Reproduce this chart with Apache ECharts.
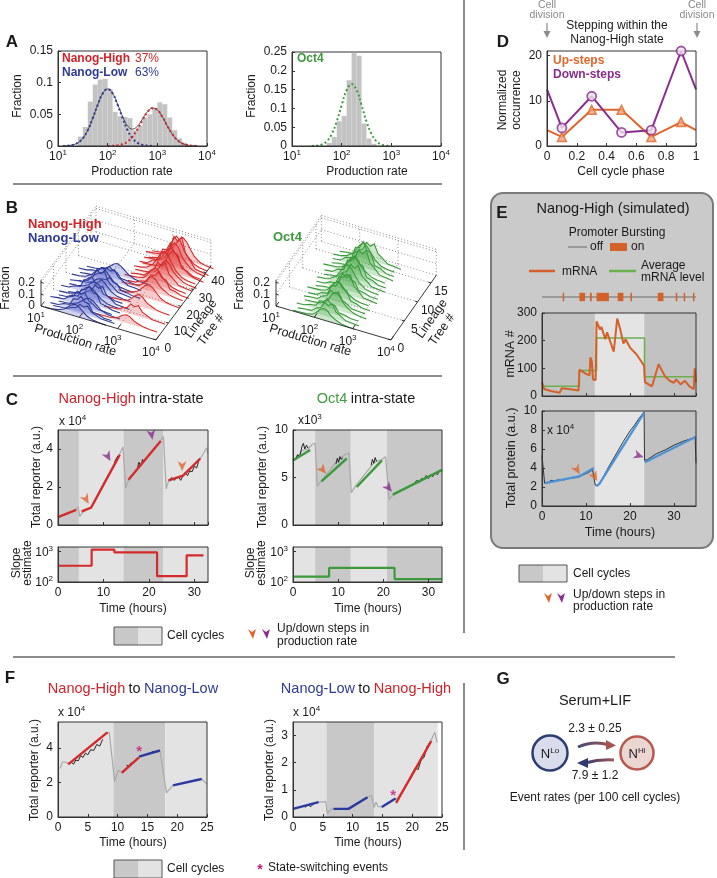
<!DOCTYPE html>
<html><head><meta charset="utf-8">
<script src="https://cdn.jsdelivr.net/npm/echarts@6.0.0/dist/echarts.min.js"></script>
<style>html,body{margin:0;padding:0;background:#fff;}#chart{width:717px;height:878px;}</style>
</head><body><div id="chart"></div>
<script>
// ================= DATA =================
// Panel A: histograms (bin centre = log10 production rate, bin width 0.1) and fitted curves
const nanogHistLog = [1.45,1.55,1.65,1.75,1.85,1.95,2.05,2.15,2.25,2.35,2.45,2.55,2.65,2.75,2.85,2.95,3.05,3.15,3.25,3.35,3.45,3.55];
const nanogHistFrac = [0.015,0.03,0.07,0.097,0.105,0.106,0.09,0.054,0.047,0.046,0.044,0.025,0.032,0.045,0.05,0.06,0.069,0.066,0.045,0.025,0.012,0.005];
const oct4HistLog = [1.75,1.85,1.95,2.05,2.15,2.25,2.35,2.45,2.55,2.65];
const oct4HistFrac = [0.008,0.024,0.066,0.08,0.175,0.247,0.24,0.06,0.02,0.006];
const fitLog = [1.0,1.1,1.2,1.3,1.4,1.5,1.6,1.7,1.8,1.9,2.0,2.1,2.2,2.3,2.4,2.5,2.6,2.7,2.8,2.9,3.0,3.1,3.2,3.3,3.4,3.5,3.6,3.7,3.8,3.9,4.0];
const nanogLowFit  = [0,0.0001,0.0005,0.0018,0.005,0.012,0.025,0.044,0.065,0.083,0.09,0.083,0.065,0.044,0.025,0.012,0.005,0.0018,0.0005,0.0001,0,0,0,0,0,0,0,0,0,0,0];
const nanogHighFit = [0,0,0,0,0,0,0,0,0,0,0.0001,0.0003,0.001,0.0028,0.0069,0.0147,0.0264,0.0408,0.0535,0.0598,0.057,0.0463,0.032,0.0189,0.0095,0.0041,0.0015,0.0005,0.0001,0,0];
const nanogSumFit  = [0,0.0001,0.0005,0.0018,0.005,0.012,0.025,0.044,0.065,0.083,0.0901,0.0833,0.066,0.0468,0.0319,0.0267,0.0314,0.0426,0.054,0.0599,0.057,0.0463,0.032,0.0189,0.0095,0.0041,0.0015,0.0005,0.0001,0,0];
const oct4Fit      = [0,0,0,0,0.0002,0.001,0.004,0.0125,0.032,0.065,0.109,0.149,0.165,0.149,0.109,0.065,0.032,0.0125,0.004,0.001,0.0002,0,0,0,0,0,0,0,0,0,0];

// Panel B: ridge profiles per lineage tree [tree, peak log10 rate, peak fraction, state(0 low,1 high,2 oct4), profile]
const bProfileDx = [-0.8,-0.6,-0.45,-0.3,-0.2,-0.1,0,0.1,0.2,0.3,0.45,0.6,0.8];
const bProfiles  = [
 [0,0.04,0.12,0.32,0.58,0.86,1,0.84,0.56,0.3,0.1,0.03,0],
 [0,0.08,0.1,0.4,0.5,0.95,0.8,1,0.5,0.35,0.08,0.05,0],
 [0,0.03,0.2,0.25,0.7,0.72,1,0.7,0.65,0.2,0.15,0.02,0],
 [0.06,0.09,0.12,0.22,0.45,0.8,1,0.85,0.5,0.32,0.12,0.04,0]];
const nanogRidges = [
 [0,1.9,0.1,0,0],[2,2.05,0.08,0,1],[3,1.95,0.13,0,2],[5,2.1,0.1,0,0],[6,1.85,0.12,0,1],[8,2.0,0.15,0,2],[10,1.95,0.11,0,0],[11,2.15,0.13,0,1],
 [13,1.9,0.15,0,2],[15,2.05,0.12,0,0],[17,2.0,0.16,0,1],[18,2.2,0.1,0,2],[20,1.95,0.13,0,0],[22,2.1,0.11,0,1],[24,2.0,0.09,0,2],[26,2.15,0.1,0,0],
 [4,3.1,0.07,1,3],[9,3.15,0.09,1,1],[14,3.1,0.1,1,3],[19,3.2,0.12,1,0],[23,3.15,0.13,1,3],[25,3.25,0.15,1,2],[27,3.1,0.14,1,3],[29,3.2,0.17,1,1],
 [31,3.25,0.16,1,3],[33,3.15,0.2,1,0],[35,3.3,0.19,1,3],[36,3.2,0.23,1,2],[38,3.25,0.21,1,3],[39,3.3,0.26,1,1],[41,3.2,0.22,1,3],[43,3.3,0.19,1,0]];
const oct4Ridges = [
 [0,2.25,0.1,2,3],[1,2.3,0.12,2,1],[2,2.2,0.11,2,2],[3,2.35,0.15,2,3],[4,2.25,0.12,2,1],[5,2.3,0.17,2,2],[6,2.2,0.13,2,3],[7,2.35,0.18,2,1],[8,2.3,0.14,2,2],
 [9,2.25,0.18,2,0],[10,2.35,0.16,2,1],[11,2.3,0.2,2,2],[12,2.2,0.15,2,3],[13,2.35,0.19,2,1],[14,2.3,0.22,2,2],[15,2.25,0.17,2,0],[16,2.35,0.15,2,1]];
const bLogTicks = [1,2,3,4];
const bFracTicks = [0,0.1,0.2];
const bTreeTicksNanog = [0,10,20,30,40];
const bTreeTicksOct4 = [0,5,10,15];

// Panel C (time in hours; reporter x1e4 left, x1e3 right; slope estimate)
const cCyclesL = [0,4.6,14.4,23.1,33];  const cShadesL = [0,1,0,1];
const cGrayL = [[0,0.42],[2,0.6],[4.0,0.8],[4.4,0.97],[4.8,0.45],[5.3,0.62],[6,0.78],[7.3,0.92],[10,2.2],[13.5,3.7],[14.3,4.1],[14.9,1.95],[15.5,2.35],[19,3.4],[22.6,4.45],[23.2,4.65],[23.8,1.9],[24.3,2.3],[27.5,2.6],[31.3,3.5],[32.7,4.05],[33,3.75]];
const cFitL = [[[0,0.42],[4,0.8]],[[5.2,0.72],[7.3,0.92],[13.6,3.7]],[[15.5,2.38],[22.6,4.42]],[[24.3,2.35],[27.5,2.6],[31.3,3.5]]];
const cNoiseL = [[[12.3,3.1],[12.6,3.4],[12.9,3.3],[13.2,3.65]],[[17.5,3.0],[17.8,3.3],[18.2,3.1],[18.6,3.45],[19,3.35]],
 [[24.5,2.35],[25,2.5],[25.5,2.35],[26,2.45],[26.5,2.55],[27,2.35],[27.5,2.6],[28,2.75],[28.5,2.6],[29,2.85],[29.5,2.8],[30,3.1],[30.5,3.0],[31,3.4]]];
const cArrowsL = [[6.2,1.35,0,30],[11,3.6,1,30],[20.6,4.75,1,10],[27.3,3.1,0,0]];
const cSlopeL = [[0,340],[7.4,1150],[12.4,930],[21.8,155],[28.3,750],[32,750]];
const cCyclesR = [0,4.9,12.8,20.8,33]; const cShadesR = [1,0,1,0];
const cGrayR = [[0,6.8],[1,7.2],[2,7.8],[3.3,8.0],[4.3,8.5],[4.9,8.6],[5.4,4.1],[6.2,4.6],[10,6.9],[11.5,7.4],[12.4,7.6],[12.9,3.4],[14,4.2],[18,6.6],[19.7,6.9],[20.5,7.2],[21.3,2.7],[22,3.1],[27,4.4],[33,5.75]];
const cFitR = [[[0,6.8],[3.8,7.9]],[[6.3,4.6],[11.9,7.0]],[[14.1,4.0],[19.7,6.8]],[[22.1,3.2],[33,5.8]]];
const cNoiseR = [[[0.5,6.9],[1,7.4],[1.5,7.2],[2,8.3],[2.3,8.6],[2.6,8.0],[3,8.4],[3.3,8.1]],[[9.5,6.4],[9.8,7.0],[10.1,6.6],[10.4,7.2],[10.7,6.9],[11,7.1]],
 [[17.3,6.3],[17.6,6.9],[17.9,6.5],[18.2,7.1],[18.5,6.7]],[[27,4.5],[27.5,4.7],[28,4.5],[28.5,4.9],[29,4.8],[29.5,5.2],[30,4.9],[30.5,5.3],[31,5.1],[31.5,5.5],[32,5.3],[32.5,5.8]]];
const cArrowsR = [[6.6,5.8,0,40],[21.2,3.9,1,40]];
const cSlopeR = [[0,150],[8,290],[22.5,125],[33,125]];

// Panel D
const dPhase = [0,0.1,0.3,0.5,0.7,0.9,1.0];
const dUpSteps = [3.5,2,8,8,2,5.3,3.5];
const dDownSteps = [12.5,4,11,3,3.5,21,12.5];

// Panel E (simulated)
const eCycles = [0,12,23.3,35]; const eShades = [0,1,0];
const eBursts = [[4.7,5.0],[8.5,9.8],[10.9,11.3],[12.4,15.2],[17.2,18.5],[20.1,20.4],[26.3,27.6],[30.4,30.7],[32.2,32.5],[34.3,34.6]];
const eMrna = [[0,50],[0.5,25],[2,18],[4,12],[4.5,28],[6,25],[8.3,20],[8.5,95],[10,80],[10.8,75],[11,140],[11.3,125],[11.6,60],[12.2,58],[12.4,270],[13.2,240],[13.5,250],[14.4,205],[14.8,230],[16.3,160],[17.1,280],[17.8,240],[18.5,190],[19,205],[20,175],[21.5,150],[23.2,110],[23.4,50],[25,35],[26.5,115],[28,70],[29,55],[30,48],[30.5,60],[31.5,42],[32.5,55],[33.5,35],[34.5,25],[34.7,100],[35,50]];
const eAvgMrna = [[0,35],[8.5,92],[12.4,210],[23.3,70],[35,70]];
const eProtein = [[0,5.3],[0.3,5.2],[0.6,2.4],[1.5,2.5],[2,2.7],[3,2.65],[4,2.8],[5,2.75],[6,2.9],[7,2.95],[8,3.0],[8.6,3.1],[9.5,3.3],[10.5,3.5],[11.5,3.8],[11.9,3.95],[12.1,2.2],[12.6,2.1],[13.2,2.4],[15,4.0],[17,5.6],[18.5,6.8],[20,7.9],[21,8.5],[22,9.2],[23.2,9.9],[23.3,4.8],[24,4.9],[26,5.5],[28,5.9],[30,6.4],[32,6.8],[34,7.1],[34.8,7.3],[35,4.5]];
const eFit = [[[0.7,2.4],[8.6,3.15],[11.8,4.0]],[[12.3,2.1],[13,2.3],[23.2,9.8]],[[23.4,4.6],[35,7.3]]];
const eArrows = [[8,3.8,0,30],[12,3.1,0,30],[22,5.3,1,70]];

// Panel F
const fCyclesL = [0,9.3,18,25]; const fShadesL = [1,0,1];
const fGrayL = [[0.3,2.8],[0.8,3.2],[1.5,3.15],[2,3.1],[5,4.0],[8,4.85],[8.6,4.9],[9.5,2.05],[10.1,2.7],[10.6,2.6],[13.6,3.5],[17.1,3.85],[17.4,3.95],[18.2,1.4],[19.3,1.85],[24.1,2.2],[25,1.9]];
const fHighL = [[[1.7,3.05],[8.3,4.9]],[[10.7,2.55],[13.6,3.45]]];
const fLowL = [[[13.6,3.5],[17.1,3.85]],[[19.3,1.83],[24.1,2.2]]];
const fNoiseL = [[[2.2,3.2],[2.6,3.05],[3,3.3],[3.4,3.25],[3.8,3.55],[4.2,3.45],[4.6,3.7],[5,3.6],[5.5,3.9],[6,3.85],[6.5,4.2],[7,4.1],[7.5,4.5]],[[11.5,3.0],[11.9,2.95],[12.3,3.15]],[[14.5,3.6],[15,3.65],[15.5,3.7],[16,3.8],[16.5,3.75]],[[22.5,2.05],[23,2.15],[23.5,2.1]]];
const fSwitchL = [[13.6,3.95]];
const fCyclesR = [0,5.6,13.6,24.3]; const fShadesR = [1,0,1];
const fGrayR = [[0,0.3],[4.3,0.55],[5.5,0.57],[5.75,0.14],[6.5,0.3],[9.3,0.3],[12.5,0.73],[13.2,0.8],[13.6,0.35],[13.9,0.55],[14.3,0.38],[14.9,0.37],[17.2,0.68],[17.6,0.7],[20,1.5],[23.2,2.85],[23.8,3.12],[24.2,2.75]];
const fLowR = [[[0,0.3],[4.3,0.55]],[[6.8,0.3],[9.3,0.3],[12.5,0.73]],[[14.9,0.37],[17.2,0.68]]];
const fHighR = [[[17.3,0.52],[23.2,2.8]]];
const fNoiseR = [[[2,0.35],[2.5,0.45],[3,0.38],[3.5,0.5]],[[20,1.6],[20.5,1.8],[21,1.75],[21.5,2.1],[22,2.2],[22.5,2.6],[23,2.75]]];
const fSwitchR = [[16.8,0.9]];

// Panel G
const gRateLoToHi = '2.3 ± 0.25';
const gRateHiToLo = '7.9 ± 1.2';

// ================= BUILD =================
const FONT = '"Liberation Sans", Arial, Helvetica, sans-serif';
const INK = '#1a1a1a', AXC = '#333333';
const RED = '#d1232a', BLUE = '#2f3a94', GREEN = '#3f9a3f', ORANGE = '#e0652c', PURPLE = '#8a2d8d';
const FITRED = '#d42a2a', FITBLUE = '#2b3aa0', FITGREEN = '#3c9a3c', GRAYTR = '#a9a9a9';
const SHADE = {d:'#c8c8c8', l:'#e3e3e4'};
const SHADE_E = {d:'#c2c2c2', l:'#e4e4e4'};
const FS = 12;
const SUP = {n:{fontSize:FS, fontFamily:FONT, color:INK, verticalAlign:'bottom'}, s:{fontSize:8, fontFamily:FONT, color:INK, verticalAlign:'bottom', padding:[0,0,6,0]}};
const SUPZ = {n:{fontSize:FS, fontFamily:FONT, fill:INK, verticalAlign:'bottom'}, s:{fontSize:8, fontFamily:FONT, fill:INK, verticalAlign:'bottom', padding:[0,0,6,0]}};
const pow10 = v => '{n|10}{s|' + Math.round(v) + '}';

const option = {animation:false, backgroundColor:'#ffffff', textStyle:{fontFamily:FONT}, grid:[], xAxis:[], yAxis:[], series:[], graphic:[]};

function axis(o, lab){
  return Object.assign({type:'value', axisLine:{show:true, onZero:false, lineStyle:{color:AXC, width:1}},
    axisTick:{show:true, inside:true, length:3, lineStyle:{color:AXC}},
    axisLabel:Object.assign({show:true, color:INK, fontSize:FS, fontFamily:FONT, margin:5}, lab||{}),
    splitLine:{show:false}, z:6}, o);
}
function addGrid(l,t,w,h,xa,ya,box){
  const i = option.grid.length;
  option.grid.push({left:l, top:t, width:w, height:h, show:box!==false, borderColor:AXC, borderWidth:1,
    backgroundColor:'rgba(0,0,0,0)', z:5, containLabel:false, outerBoundsMode:'none'});
  xa.gridIndex = i; ya.gridIndex = i;
  option.xAxis.push(xa); option.yAxis.push(ya);
  return i;
}
function line(gi, data, color, width, extra){
  option.series.push(Object.assign({type:'line', xAxisIndex:gi, yAxisIndex:gi, data:data, symbol:'none', showSymbol:false,
    silent:true, lineStyle:{color:color, width:width}, z:3}, extra||{}));
}
function curve(gi, xs, ys, color, width, dotted){
  const d = []; xs.forEach((x,k)=>{ if (ys[k] > 0) d.push([x, ys[k]]); });
  line(gi, d, color, width, {smooth:0.4, lineStyle:{color:color, width:width, type: dotted ? [2,2.4] : 'solid'}});
}
function cycles(gi, bounds, shades, pal, yRef){
  option.series.push({type:'custom', xAxisIndex:gi, yAxisIndex:gi, silent:true, z:1,
    data: shades.map((s,k)=>[bounds[k], bounds[k+1], yRef, s]),
    renderItem:(p, api)=>{ const cs = p.coordSys; const y = api.value(2);
      let a = api.coord([api.value(0), y])[0], b = api.coord([api.value(1), y])[0];
      a = Math.max(cs.x, a); b = Math.min(cs.x + cs.width, b);
      return {type:'rect', shape:{x:a, y:cs.y, width:Math.max(0,b-a), height:cs.height}, style:{fill: api.value(3)===0 ? pal.d : pal.l}};
    }});
}
function hist(gi, centers, vals, width){
  option.series.push({type:'custom', xAxisIndex:gi, yAxisIndex:gi, silent:true, z:2,
    data: centers.map((c,k)=>[c, vals[k]]),
    renderItem:(p, api)=>{ const c = api.value(0), h = api.value(1);
      const a = api.coord([c - width/2, 0]), b = api.coord([c + width/2, h]);
      return {type:'rect', shape:{x:a[0], y:b[1], width:b[0]-a[0], height:a[1]-b[1]}, style:{fill:'#c3c3c3'}};
    }});
}
const ARROW = 'path://M0,0 L7,4 L14,0 L7,14 Z';
function arrows(gi, list){
  option.series.push({type:'scatter', xAxisIndex:gi, yAxisIndex:gi, silent:true, z:8, symbol:ARROW, symbolSize:[9,10],
    data: list.map(a=>({value:[a[0],a[1]], symbolRotate:a[3], itemStyle:{color: a[2]===0 ? ORANGE : PURPLE}}))});
}
function stars(gi, list){
  option.series.push({type:'scatter', xAxisIndex:gi, yAxisIndex:gi, silent:true, z:8, symbolSize:1, itemStyle:{color:'rgba(0,0,0,0)'},
    label:{show:true, formatter:'*', color:'#c2187c', fontSize:15, fontWeight:'bold', position:'inside', offset:[0,3]}, data:list});
}
function T(x,y,text,o){ o = o||{};
  option.graphic.push({type:'text', x:x, y:y, z:100, silent:true, rotation:o.rot||0,
    style:{text:text, fill:o.color||INK, fontSize:o.size||FS, fontFamily:FONT, fontWeight:o.bold?'bold':'normal',
      align:o.align||'center', verticalAlign:o.va||'middle', rich:o.rich}});
}
function Ln(x1,y1,x2,y2,color,w){ option.graphic.push({type:'line', z:100, silent:true, shape:{x1:x1,y1:y1,x2:x2,y2:y2}, style:{stroke:color, lineWidth:w}}); }
function Rect(x,y,w,h,fill,stroke,r,z,lw){ option.graphic.push({type:'rect', z:(z==null?100:z), silent:true, shape:{x:x,y:y,width:w,height:h,r:r||0}, style:{fill:fill, stroke:stroke||null, lineWidth:stroke?(lw||1):0}}); }
function Poly(pts, fill){ option.graphic.push({type:'polygon', z:100, silent:true, shape:{points:pts}, style:{fill:fill}}); }
function legendBox(x,y,w,h){ Rect(x,y,w/2,h,SHADE.d); Rect(x+w/2,y,w/2,h,SHADE.l); Rect(x,y,w,h,'rgba(0,0,0,0)','#555'); }

// ---------- Panel A ----------
const yFmt = v => v===0 ? '0' : String(+v.toFixed(2));
const gA1 = addGrid(58,51,149,95, axis({min:1,max:4,interval:1},{formatter:pow10, rich:SUP, margin:3}), axis({min:0,max:0.15,interval:0.05},{formatter:yFmt}));
hist(gA1, nanogHistLog, nanogHistFrac, 0.1);
curve(gA1, fitLog, nanogSumFit, '#333', 0.8, false);
curve(gA1, fitLog, nanogLowFit, BLUE, 2, true);
curve(gA1, fitLog, nanogHighFit, RED, 2, true);
const gA2 = addGrid(292,52,149,94, axis({min:1,max:4,interval:1},{formatter:pow10, rich:SUP, margin:3}), axis({min:0,max:0.25,interval:0.05},{formatter:yFmt}));
hist(gA2, oct4HistLog, oct4HistFrac, 0.1);
curve(gA2, fitLog, oct4Fit, GREEN, 2, true);

// ---------- Panel D ----------
const gD = addGrid(547,51,149,95, axis({min:0,max:1,interval:0.2},{formatter:v=>String(+v.toFixed(1))}), axis({min:0,max:21,interval:10},{showMaxLabel:false}));
line(gD, dPhase.map((x,k)=>[x,dUpSteps[k]]), ORANGE, 2);
line(gD, dPhase.map((x,k)=>[x,dDownSteps[k]]), PURPLE, 2);
option.series.push({type:'scatter', xAxisIndex:gD, yAxisIndex:gD, silent:true, z:5, symbol:'triangle', symbolSize:9,
  itemStyle:{color:'#f1a57c', borderColor:ORANGE, borderWidth:1.5}, data: dPhase.slice(1,-1).map((x,k)=>[x,dUpSteps[k+1]])});
option.series.push({type:'scatter', xAxisIndex:gD, yAxisIndex:gD, silent:true, z:5, symbol:'circle', symbolSize:9,
  itemStyle:{color:'#efe3ef', borderColor:PURPLE, borderWidth:1.8}, data: dPhase.slice(1,-1).map((x,k)=>[x,dDownSteps[k+1]])});

// ---------- Panel B (3D ridge projection on a hidden pixel grid) ----------
const gB = addGrid(0,0,717,878, {type:'value',min:0,max:717,show:false}, {type:'value',min:0,max:878,inverse:true,show:false}, false);
const PB_L = {ox:41, oy:306, ex:[38.3,11.3], et:[1.25,-1.68], ef:-118, tMax:44, fMax:0.22, tTicks:bTreeTicksNanog, lin:[22,10], treeLab:[12,9]};
const PB_R = {ox:276, oy:306, ex:[38.3,11.3], et:[2.67,-3.8], ef:-118, tMax:17, fMax:0.22, tTicks:bTreeTicksOct4, lin:[22,6], treeLab:[10,9]};
function bProj(P, lx, t, f){ return [P.ox + (lx-1)*P.ex[0] + t*P.et[0], P.oy + (lx-1)*P.ex[1] + t*P.et[1] + f*P.ef]; }
function bFrame(P){
  option.series.push({type:'custom', xAxisIndex:gB, yAxisIndex:gB, silent:true, z:2, data:[[0]], renderItem:(p, api)=>{
    const c = (lx,t,f)=>api.coord(bProj(P,lx,t,f)); const ch = [];
    const dot = {stroke:'#707070', lineWidth:0.8, lineDash:[1,2.2]};
    const L = (a,b,st)=>ch.push({type:'line', shape:{x1:a[0],y1:a[1],x2:b[0],y2:b[1]}, style:st});
    bLogTicks.forEach(lx=>{ if (lx>1 && lx<4) L(c(lx,0,0), c(lx,P.tMax,0), dot); });
    P.tTicks.forEach(t=>{ if (t>0) L(c(1,t,0), c(4,t,0), dot); });
    bLogTicks.forEach(lx=>L(c(lx,P.tMax,0), c(lx,P.tMax,P.fMax), dot));
    bFracTicks.concat([P.fMax]).forEach(f=>L(c(1,P.tMax,f), c(4,P.tMax,f), dot));
    P.tTicks.forEach(t=>{ if (t>0) L(c(1,t,0), c(1,t,P.fMax), dot); });
    bFracTicks.concat([P.fMax]).forEach(f=>{ if (f>0) L(c(1,0,f), c(1,P.tMax,f), dot); });
    return {type:'group', children:ch};
  }});
}
function bAxes(P){
  option.series.push({type:'custom', xAxisIndex:gB, yAxisIndex:gB, silent:true, z:6, data:[[0]], renderItem:(p, api)=>{
    const c = (lx,t,f)=>api.coord(bProj(P,lx,t,f)); const ch = [];
    const sol = {stroke:'#222', lineWidth:0.9};
    const L = (a,b)=>ch.push({type:'line', shape:{x1:a[0],y1:a[1],x2:b[0],y2:b[1]}, style:sol});
    const TX = (pt,dx,dy,text,al,rot,sz)=>ch.push({type:'text', x:pt[0]+dx, y:pt[1]+dy, rotation:rot||0,
      style:{text:text, fill:INK, fontSize:sz||FS, fontFamily:FONT, align:al||'center', verticalAlign:'middle', rich:SUPZ}});
    L(c(1,0,0), c(4,0,0)); L(c(4,0,0), c(4,P.tMax,0)); L(c(1,0,0), c(1,0,0.22));
    bLogTicks.forEach(lx=>{ L(c(lx,0,0), c(lx,P.tMax*0.06,0)); TX(c(lx,0,0), -5, 12, pow10(lx)); });
    P.tTicks.forEach(t=>{ L(c(4,t,0), c(3.93,t,0)); TX(c(4,t,0), P.treeLab[0], P.treeLab[1], String(t), 'center'); });
    bFracTicks.forEach(f=>{ L(c(1,0,f), c(1.07,0,f)); TX(c(1,0,f), -6, 0, String(f), 'right'); });
    const ang = Math.atan2(P.ex[1], P.ex[0]);
    TX(c(2,0,0), -4, 23, 'Production rate', 'center', -ang, 12.5);
    const at = Math.atan2(-P.et[1], P.et[0]);
    const mid = c(4, P.tMax*0.42, 0);
    TX(mid, P.lin[0], P.lin[1], 'Lineage', 'center', at, 12.5);
    TX(mid, P.lin[0]+10, P.lin[1]+11, 'Tree #', 'center', at, 12.5);
    return {type:'group', children:ch};
  }});
}
function bRidges(P, ridges){
  const strokes = [BLUE, '#d42b2b', '#3a9a3a'];
  const fills = ['rgba(80,90,200,0.28)', 'rgba(225,70,70,0.28)', 'rgba(70,170,70,0.28)'];
  option.series.push({type:'custom', xAxisIndex:gB, yAxisIndex:gB, silent:true, z:4,
    data: ridges.slice().sort((a,b)=>b[0]-a[0]),
    renderItem:(p, api)=>{
      const t = api.value(0), mu = api.value(1), pk = api.value(2), st = api.value(3), prof = bProfiles[api.value(4)];
      const pts = bProfileDx.map((dx,k)=>api.coord(bProj(P, mu+dx, t, pk*prof[k])));
      const n = bProfileDx.length;
      const base = [api.coord(bProj(P, mu+bProfileDx[n-1], t, 0)), api.coord(bProj(P, mu+bProfileDx[0], t, 0))];
      return {type:'group', children:[
        {type:'polygon', shape:{points:pts.concat(base)}, style:{fill:fills[st]}},
        {type:'polyline', shape:{points:pts}, style:{stroke:strokes[st], lineWidth:1.1, fill:null}}]};
    }});
}
bFrame(PB_L); bRidges(PB_L, nanogRidges); bAxes(PB_L);
bFrame(PB_R); bRidges(PB_R, oct4Ridges); bAxes(PB_R);

// ---------- Panel C ----------
const slopeAxis = () => axis({type:'log', logBase:10, min:100, max:1400}, {formatter:v=>pow10(Math.log10(v)), rich:SUP, showMaxLabel:false});
const tAxis = (max, show) => axis({min:0,max:max,interval:10}, {show:show, showMaxLabel:false});
const gC1 = addGrid(58,430,150,95, tAxis(33,false), axis({min:0,max:5,interval:2},{showMaxLabel:false}));
cycles(gC1, cCyclesL, cShadesL, SHADE, 0);
line(gC1, cGrayL, GRAYTR, 1.2);
cNoiseL.forEach(s=>line(gC1, s, '#111', 0.9));
cFitL.forEach(s=>line(gC1, s, FITRED, 2.4, {z:4}));
arrows(gC1, cArrowsL);
const gC2 = addGrid(58,547,150,35, tAxis(33,true), slopeAxis());
cycles(gC2, cCyclesL, cShadesL, SHADE, 100);
line(gC2, cSlopeL, FITRED, 2.2, {step:'end'});
const gC3 = addGrid(293,430,149,95, tAxis(33,false), axis({min:0,max:10,interval:5}));
cycles(gC3, cCyclesR, cShadesR, SHADE, 0);
line(gC3, cGrayR, GRAYTR, 1.2);
cNoiseR.forEach(s=>line(gC3, s, '#111', 0.9));
cFitR.forEach(s=>line(gC3, s, FITGREEN, 2.4, {z:4}));
arrows(gC3, cArrowsR);
const gC4 = addGrid(293,547,149,35, tAxis(33,true), slopeAxis());
cycles(gC4, cCyclesR, cShadesR, SHADE, 100);
line(gC4, cSlopeR, FITGREEN, 2.2, {step:'end'});

// ---------- Panel E ----------
Rect(491,193,222,355,'#cacaca','#7a7a7a',12,0,2);
const gE0 = addGrid(542,290,154,14, {type:'value',min:0,max:35,show:false}, {type:'value',min:0,max:1,show:false}, false);
line(gE0, [[0,0.5],[35,0.5]], '#8a8a8a', 1.5);
option.series.push({type:'custom', xAxisIndex:gE0, yAxisIndex:gE0, silent:true, z:4, data:eBursts,
  renderItem:(p, api)=>{ const a = api.coord([api.value(0), 0.8]), b = api.coord([api.value(1), 0.2]);
    return {type:'rect', shape:{x:a[0], y:a[1], width:Math.max(1.5, b[0]-a[0]), height:b[1]-a[1]}, style:{fill:'#d4602a'}}; }});
const gE1 = addGrid(542,313,154,83, tAxis(35,false), axis({min:0,max:300,interval:100}));
cycles(gE1, eCycles, eShades, SHADE_E, 0);
line(gE1, eAvgMrna, '#6ab04c', 1.5, {step:'end'});
line(gE1, eMrna, '#d4602a', 2);
const gE2 = addGrid(542,411,154,95, tAxis(35,true), axis({min:0,max:10,interval:2}));
cycles(gE2, eCycles, eShades, SHADE_E, 0);
line(gE2, eProtein, '#222', 0.9);
eFit.forEach(s=>line(gE2, s, '#4a93db', 2.2, {z:4}));
arrows(gE2, eArrows);

// ---------- Panel F ----------
const gF1 = addGrid(58,722,149,95, axis({min:0,max:25,interval:5}), axis({min:0,max:5.5,interval:2},{showMaxLabel:false}));
cycles(gF1, fCyclesL, fShadesL, SHADE, 0);
line(gF1, fGrayL, GRAYTR, 1.2);
fNoiseL.forEach(s=>line(gF1, s, '#111', 0.9));
fHighL.forEach(s=>line(gF1, s, FITRED, 2.4, {z:4}));
fLowL.forEach(s=>line(gF1, s, FITBLUE, 2.4, {z:4}));
stars(gF1, fSwitchL);
const gF2 = addGrid(293,722,149,95, axis({min:0,max:25,interval:5}), axis({min:0,max:3.5,interval:1},{showMaxLabel:false}));
cycles(gF2, fCyclesR, fShadesR, SHADE, 0);
line(gF2, fGrayR, GRAYTR, 1.2);
fNoiseR.forEach(s=>line(gF2, s, '#111', 0.9));
fLowR.forEach(s=>line(gF2, s, FITBLUE, 2.4, {z:4}));
fHighR.forEach(s=>line(gF2, s, FITRED, 2.4, {z:4}));
stars(gF2, fSwitchR);

// ---------- Text, separators, legends ----------
const SEP = '#8c8c8c';
Ln(464,0,464,633,SEP,2); Ln(13,184,442,184,SEP,2); Ln(13,376,442,376,SEP,2); Ln(13,657,675,657,SEP,2); Ln(464,683,464,850,SEP,2);
const L17 = {bold:true, size:17};
T(12,42,'A',L17); T(12,208,'B',L17); T(12,400,'C',L17); T(503,42,'D',L17); T(502,213,'E',L17); T(10,678,'F',L17); T(503,679,'G',L17);
const ROT = Math.PI/2;
// A
T(18,96,'Fraction',{rot:ROT}); T(252,96,'Fraction',{rot:ROT});
T(132,172,'Production rate'); T(367,172,'Production rate');
T(62,59,'Nanog-High',{align:'left',bold:true,color:RED}); T(135,59,'37%',{align:'left',color:RED});
T(62,73,'Nanog-Low',{align:'left',bold:true,color:BLUE}); T(135,73,'63%',{align:'left',color:BLUE});
T(297,59,'Oct4',{align:'left',bold:true,color:GREEN});
// B
T(28,224,'Nanog-High',{align:'left',bold:true,color:RED,size:13}); T(28,238,'Nanog-Low',{align:'left',bold:true,color:BLUE,size:13});
T(273,237,'Oct4',{align:'left',bold:true,color:GREEN,size:13});
T(6,288,'Fraction',{rot:ROT}); T(240,288,'Fraction',{rot:ROT});
// C
const TS = 14.5;
const richC = {r:{fill:RED,fontSize:TS,fontFamily:FONT}, g:{fill:GREEN,fontSize:TS,fontFamily:FONT}, k:{fill:INK,fontSize:TS,fontFamily:FONT}, b:{fill:BLUE,fontSize:TS,fontFamily:FONT}};
T(131,399,'{r|Nanog-High} {k|intra-state}',{rich:richC}); T(366,399,'{g|Oct4} {k|intra-state}',{rich:richC});
T(59,421,'{n|x 10}{s|4}',{align:'left',rich:SUPZ}); T(298,420,'{n|x10}{s|3}',{align:'left',rich:SUPZ});
T(37,477,'Total reporter (a.u.)',{rot:ROT}); T(263,477,'Total reporter (a.u.)',{rot:ROT});
T(17,563,'Slope',{rot:ROT}); T(28,563,'estimate',{rot:ROT});
T(251,563,'Slope',{rot:ROT}); T(262,563,'estimate',{rot:ROT});
T(133,609,'Time (hours)'); T(368,609,'Time (hours)');
legendBox(114,627,48,18); T(167,636,'Cell cycles',{align:'left'});
Poly([[248,629],[252,632],[256,629],[253,639]],ORANGE); Poly([[262,629],[266,632],[270,629],[267,639]],PURPLE);
T(277,629,'Up/down steps in',{align:'left'}); T(277,642,'production rate',{align:'left'});
// D
T(617,26,'Stepping within the'); T(617,40,'Nanog-High state');
T(547,5,'Cell',{color:'#8a8a8a',size:10.5}); T(547,15,'division',{color:'#8a8a8a',size:10.5});
T(697,5,'Cell',{color:'#8a8a8a',size:10.5}); T(697,15,'division',{color:'#8a8a8a',size:10.5});
Ln(547,23,547,33,'#8a8a8a',1.2); Poly([[543.5,31],[547,38],[550.5,31]],'#8a8a8a');
Ln(697,23,697,33,'#8a8a8a',1.2); Poly([[693.5,31],[697,38],[700.5,31]],'#8a8a8a');
T(553,61,'Up-steps',{align:'left',bold:true,color:ORANGE}); T(553,75,'Down-steps',{align:'left',bold:true,color:PURPLE});
T(503,100,'Normalized',{rot:ROT}); T(517,100,'occurrence',{rot:ROT});
T(621,172,'Cell cycle phase');
// E
T(613,209,'Nanog-High (simulated)',{size:14.5});
T(617,233,'Promoter Bursting');
Ln(568,247,587,247,'#888',1.5); T(590,247,'off',{align:'left'}); Rect(610,243,17,8,'#d4602a'); T(631,247,'on',{align:'left'});
Ln(529,271,555,271,'#d4602a',2.5); T(562,272,'mRNA',{align:'left'});
Ln(609,271,636,271,'#6ab04c',2.5); T(641,266,'Average',{align:'left'}); T(641,278,'mRNA level',{align:'left'});
T(511,354,'mRNA #',{rot:ROT,size:12.5}); T(512,458,'Total protein (a.u.)',{rot:ROT,size:12.5});
T(547,430,'{n|x 10}{s|4}',{align:'left',rich:SUPZ});
T(620,533,'Time (hours)',{size:12.5});
Rect(519,565,24,17,SHADE.d); Rect(543,565,24,17,SHADE.l); Rect(519,565,48,17,'rgba(0,0,0,0)','#555');
T(573,574,'Cell cycles',{align:'left'});
Poly([[544,593],[548,596],[552,593],[549,603]],ORANGE); Poly([[557,593],[561,596],[565,593],[562,603]],PURPLE);
T(573,595,'Up/down steps in',{align:'left'}); T(573,607,'production rate',{align:'left'});
// F
T(133,689,'{r|Nanog-High} {k|to} {b|Nanog-Low}',{rich:richC}); T(366,689,'{b|Nanog-Low} {k|to} {r|Nanog-High}',{rich:richC});
T(58,712,'{n|x 10}{s|4}',{align:'left',rich:SUPZ}); T(293,712,'{n|x 10}{s|4}',{align:'left',rich:SUPZ});
T(35,770,'Total reporter (a.u.)',{rot:ROT}); T(270,770,'Total reporter (a.u.)',{rot:ROT});
T(133,843,'Time (hours)'); T(368,843,'Time (hours)');
legendBox(114,860,48,18); T(167,869,'Cell cycles',{align:'left'});
T(260,870,'*',{color:'#c2187c',size:14,bold:true}); T(268,868,'State-switching events',{align:'left'});
// G
T(595,701,'Serum+LIF',{size:14.5});
T(595,729,gRateLoToHi); T(595,776,gRateHiToLo);
T(595,798,'Event rates (per 100 cell cycles)');
option.graphic.push({type:'circle', z:100, silent:true, shape:{cx:550,cy:753,r:17.5}, style:{fill:'#d9dcea', stroke:'#2c3d74', lineWidth:2.5}});
option.graphic.push({type:'circle', z:100, silent:true, shape:{cx:637,cy:753,r:16.5}, style:{fill:'#ecd6d2', stroke:'#b65a50', lineWidth:2.5}});
const richN = {a:{fontSize:13,fontFamily:FONT,fill:INK,verticalAlign:'bottom'}, b:{fontSize:8,fontFamily:FONT,fill:INK,verticalAlign:'bottom',padding:[0,0,6,0]}};
T(550,754,'{a|N}{b|Lo}',{rich:richN}); T(637,754,'{a|N}{b|Hi}',{rich:richN});
option.graphic.push({type:'bezierCurve', z:100, silent:true, shape:{x1:578,y1:747,x2:609,y2:745,cpx1:594,cpy1:740},
  style:{fill:null, lineWidth:3, stroke:{type:'linear',x:0,y:0,x2:1,y2:0,colorStops:[{offset:0,color:'#3c4a7c'},{offset:1,color:'#a55550'}]}}});
Poly([[606,740],[616,745.5],[606,750]],'#a55550');
option.graphic.push({type:'bezierCurve', z:100, silent:true, shape:{x1:614,y1:760,x2:585,y2:763,cpx1:600,cpy1:759},
  style:{fill:null, lineWidth:3, stroke:{type:'linear',x:0,y:0,x2:1,y2:0,colorStops:[{offset:0,color:'#2e3a6e'},{offset:1,color:'#a55a58'}]}}});
Poly([[588,758],[577,763],[588,768]],'#2e3a6e');

const chart = echarts.init(document.getElementById('chart'), null, {renderer:'canvas', width:717, height:878});
chart.setOption(option);
</script></body></html>
